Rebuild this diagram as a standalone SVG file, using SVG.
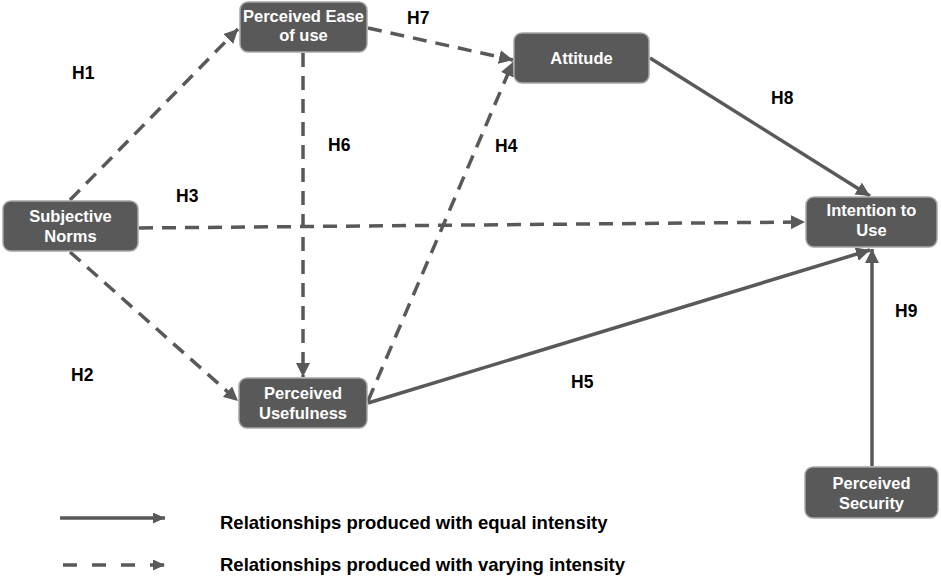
<svg xmlns="http://www.w3.org/2000/svg" width="941" height="578" viewBox="0 0 941 578">
<style>
.node rect{fill:#595959;stroke:#a6a6a6;stroke-width:1.5}
.node text{fill:#fff;font-family:"Liberation Sans",Arial,sans-serif;font-weight:bold;font-size:16.5px;text-anchor:middle}
.edge{stroke:#595959;stroke-width:3.5;fill:none}
.dash{stroke-dasharray:14 9}
.lbl{font-family:"Liberation Sans",Arial,sans-serif;font-weight:bold;font-size:17.5px;fill:#000}
.leg{font-family:"Liberation Sans",Arial,sans-serif;font-weight:bold;font-size:18.5px;fill:#000}
</style>
<defs>
<marker id="ah" markerUnits="userSpaceOnUse" markerWidth="16" markerHeight="14" refX="14" refY="7" orient="auto">
<path d="M0,0 L14,7 L0,14 z" fill="#595959"/>
</marker>
<marker id="ahs" markerUnits="userSpaceOnUse" markerWidth="14" markerHeight="12" refX="12" refY="5.5" orient="auto">
<path d="M0,0 L12,5.5 L0,11 z" fill="#595959"/>
</marker>
</defs>
<rect width="941" height="578" fill="#fff"/>
<g id="connectors">
<line id="H1" class="edge dash" x1="70" y1="200" x2="238" y2="29" marker-end="url(#ah)"/>
<line id="H2" class="edge dash" x1="70" y1="252" x2="238" y2="401" marker-end="url(#ah)"/>
<line id="H3" class="edge dash" x1="139" y1="228" x2="805" y2="222" marker-end="url(#ah)"/>
<line id="H6" class="edge dash" x1="303" y1="53" x2="303" y2="377" marker-end="url(#ah)"/>
<line id="H7" class="edge dash" x1="368" y1="28" x2="513" y2="60" marker-end="url(#ah)"/>
<line id="H4" class="edge dash" x1="368" y1="401" x2="513" y2="62" marker-end="url(#ah)"/>
<line id="H5" class="edge" x1="368" y1="403" x2="870" y2="250" marker-end="url(#ah)"/>
<line id="H8" class="edge" x1="650" y1="58" x2="870" y2="196" marker-end="url(#ah)"/>
<line id="H9" class="edge" x1="872" y1="466" x2="872" y2="249" marker-end="url(#ah)"/>
</g>
<g id="n-peou" class="node"><rect x="240" y="2" width="127" height="50" rx="8"/><text x="303.5" y="22">Perceived Ease</text><text x="303.5" y="41">of use</text></g>
<g id="n-sn" class="node"><rect x="3" y="201" width="135" height="50" rx="8"/><text x="70.5" y="222">Subjective</text><text x="70.5" y="242">Norms</text></g>
<g id="n-att" class="node"><rect x="514" y="33" width="135" height="50" rx="8"/><text x="581.5" y="64">Attitude</text></g>
<g id="n-itu" class="node"><rect x="806" y="197" width="131" height="50" rx="8"/><text x="871.5" y="216">Intention to</text><text x="871.5" y="236">Use</text></g>
<g id="n-pu" class="node"><rect x="239" y="378" width="128" height="50" rx="8"/><text x="303" y="399">Perceived</text><text x="303" y="419">Usefulness</text></g>
<g id="n-ps" class="node"><rect x="805" y="467" width="133" height="51" rx="8"/><text x="871.5" y="489">Perceived</text><text x="871.5" y="509">Security</text></g>
<g id="labels">
<text class="lbl" x="72" y="79">H1</text>
<text class="lbl" x="407" y="24">H7</text>
<text class="lbl" x="328" y="151">H6</text>
<text class="lbl" x="495" y="152">H4</text>
<text class="lbl" x="771" y="104">H8</text>
<text class="lbl" x="176" y="202">H3</text>
<text class="lbl" x="895" y="317">H9</text>
<text class="lbl" x="71" y="381">H2</text>
<text class="lbl" x="571" y="388">H5</text>
</g>
<g id="legend">
<line class="edge" x1="60" y1="518" x2="165" y2="518" marker-end="url(#ahs)"/>
<line class="edge" style="stroke-dasharray:14 15" x1="63" y1="565" x2="165" y2="565" marker-end="url(#ahs)"/>
<text class="leg" x="220" y="529">Relationships produced with equal intensity</text>
<text class="leg" x="220" y="571">Relationships produced with varying intensity</text>
</g>
</svg>
